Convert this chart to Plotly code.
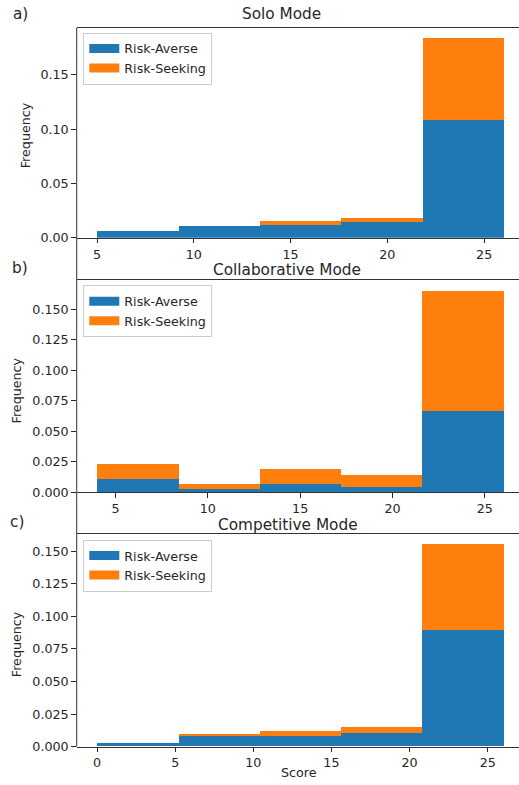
import plotly.graph_objects as go

# Histogram bin edges and stacked densities for each game mode
solo_edges = [5, 9.2, 13.4, 17.6, 21.8, 26]
solo_averse = [0.0070, 0.0109, 0.0121, 0.0148, 0.1090]
solo_seeking = [0.0, 0.0, 0.0040, 0.0034, 0.0753]

collab_edges = [4, 8.4, 12.8, 17.2, 21.6, 26]
collab_averse = [0.0114, 0.0026, 0.0069, 0.0047, 0.0666]
collab_seeking = [0.0117, 0.0042, 0.0120, 0.0096, 0.0989]

comp_edges = [0, 5.2, 10.4, 15.6, 20.8, 26]
comp_averse = [0.0024, 0.0075, 0.0075, 0.0098, 0.0890]
comp_seeking = [0.0, 0.0021, 0.0041, 0.0048, 0.0661]

series_names = ["Risk-Averse", "Risk-Seeking"]
mode_titles = ["Solo Mode", "Collaborative Mode", "Competitive Mode"]
panel_tags = ["a)", "b)", "c)"]
x_label = "Score"
y_label = "Frequency"

W, H = 519, 785
BLUE, ORANGE = "#1f77b4", "#ff7f0e"
FONT = "DejaVu Sans"
INK = "#262626"


def px(x):
    return x / W


def py(y):
    return 1 - y / H


panels = [
    dict(edges=solo_edges, a=solo_averse, s=solo_seeking,
         xr=[3.95, 26.8], yr=[0, 0.1935], top=28, bot=240,
         yt=[0, 0.05, 0.10, 0.15], yf=".2f", xt=[5, 10, 15, 20, 25],
         title=(281, 14), tag=(20, 14), ylab=(25.5, 137), leg=(83.3, 33)),
    dict(edges=collab_edges, a=collab_averse, s=collab_seeking,
         xr=[2.9, 26.85], yr=[0, 0.1743], top=282.3, bot=496.7,
         yt=[0, 0.025, 0.05, 0.075, 0.1, 0.125, 0.15], yf=".3f", xt=[5, 10, 15, 20, 25],
         title=(287, 272.5), tag=(20, 270), ylab=(16, 394), leg=(83.3, 288)),
    dict(edges=comp_edges, a=comp_averse, s=comp_seeking,
         xr=[-1.3, 27.0], yr=[0, 0.1630], top=539.3, bot=753.3,
         yt=[0, 0.025, 0.05, 0.075, 0.1, 0.125, 0.15], yf=".3f", xt=[0, 5, 10, 15, 20, 25],
         title=(288, 529.5), tag=(16.7, 527), ylab=(16, 650), leg=(83.3, 544.7)),
]

fig = go.Figure()
layout = dict(
    width=W, height=H, margin=dict(l=0, r=0, t=0, b=0),
    paper_bgcolor="white", plot_bgcolor="white",
    barmode="stack", bargap=0, showlegend=True,
    font=dict(family=FONT, size=12.7, color=INK),
)
annotations = []

for i, p in enumerate(panels):
    k = "" if i == 0 else str(i + 1)
    xa, ya, lg = "x" + k, "y" + k, "legend" + k
    edges = p["edges"]
    centers = [(edges[j] + edges[j + 1]) / 2 for j in range(len(edges) - 1)]
    widths = [edges[j + 1] - edges[j] for j in range(len(edges) - 1)]

    for vals, color in ((p["a"], BLUE), (p["s"], ORANGE)):
        fig.add_trace(go.Bar(
            x=centers, y=vals, width=widths, xaxis=xa, yaxis=ya,
            marker=dict(color=color, line=dict(width=0)),
            showlegend=False, hoverinfo="skip",
        ))
    # wide flat legend swatches
    for name, color in zip(series_names, (BLUE, ORANGE)):
        fig.add_trace(go.Scatter(
            x=[None], y=[None], mode="lines", name=name,
            line=dict(color=color, width=9), xaxis=xa, yaxis=ya, legend=lg,
        ))

    layout["xaxis" + k] = dict(
        domain=[px(76.7), 1.0], range=p["xr"], anchor=ya,
        tickvals=p["xt"], ticks="outside", ticklen=4.5, tickwidth=1,
        tickcolor=INK, showline=True, linecolor="#333333", linewidth=1,
        mirror=True, showgrid=False, zeroline=False,
        tickfont=dict(size=12.7, color=INK),
    )
    layout["yaxis" + k] = dict(
        domain=[py(p["bot"]), py(p["top"])], range=p["yr"], anchor=xa,
        tickvals=p["yt"], tickformat=p["yf"], ticks="outside", ticklen=4.5,
        tickwidth=1, tickcolor=INK, showline=False, showgrid=False,
        zeroline=False, tickfont=dict(size=12.7, color=INK),
    )
    layout[lg] = dict(
        x=px(p["leg"][0]), y=py(p["leg"][1]), xanchor="left", yanchor="top",
        bgcolor="rgba(255,255,255,0.8)", bordercolor="#cccccc", borderwidth=1,
        font=dict(size=12.7, color=INK), traceorder="normal",
        tracegroupgap=0, itemwidth=30,
    )

    annotations.append(dict(
        text=mode_titles[i], x=px(p["title"][0]), y=py(p["title"][1]),
        xref="paper", yref="paper", showarrow=False, xanchor="center",
        yanchor="middle", font=dict(size=15.3, color=INK),
    ))
    annotations.append(dict(
        text=panel_tags[i], x=px(p["tag"][0]), y=py(p["tag"][1]),
        xref="paper", yref="paper", showarrow=False, xanchor="center",
        yanchor="middle", font=dict(size=15.3, color=INK),
    ))
    annotations.append(dict(
        text=y_label, x=px(p["ylab"][0]), y=py(p["ylab"][1]),
        xref="paper", yref="paper", showarrow=False, textangle=-90,
        xanchor="center", yanchor="middle", font=dict(size=12.7, color=INK),
    ))

annotations.append(dict(
    text=x_label, x=px(299), y=py(779), xref="paper", yref="paper",
    showarrow=False, xanchor="center", yanchor="middle",
    font=dict(size=12.7, color=INK),
))

layout["annotations"] = annotations
# shared left spine running down the full column of panels
layout["shapes"] = [dict(
    type="line", xref="paper", yref="paper",
    x0=px(76.7), x1=px(76.7), y0=py(28), y1=py(753.3),
    line=dict(color="#333333", width=1),
)]

fig.update_layout(**layout)
fig.write_html("out.html")
